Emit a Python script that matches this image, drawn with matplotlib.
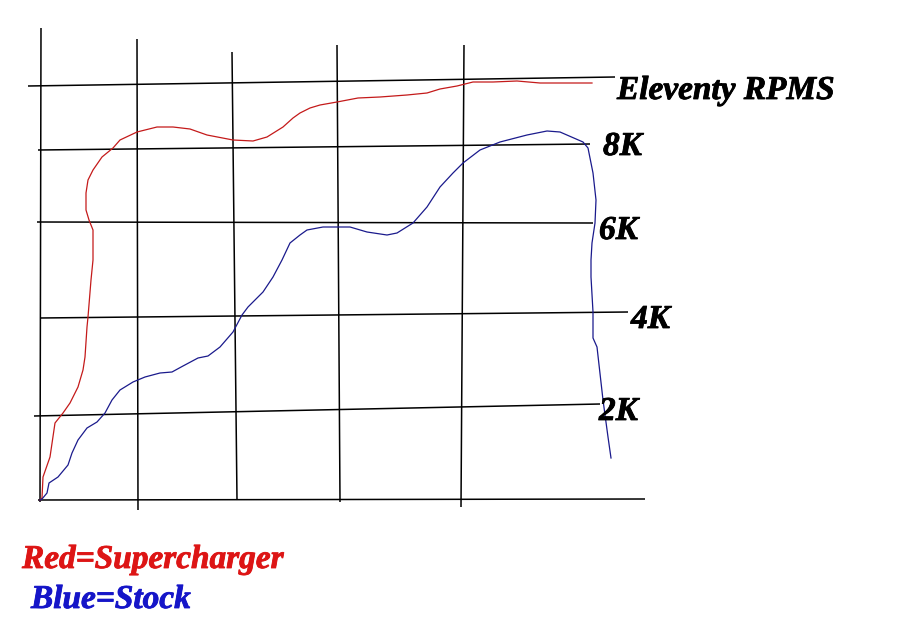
import matplotlib
matplotlib.use("Agg")
import matplotlib.pyplot as plt
from matplotlib import font_manager as fm
import matplotlib.patheffects as pe

# Hand-drawn sketch: values, in picture units (x right, y down)
red_x = [40, 42, 43, 50, 55, 63, 70, 78, 83, 85, 87, 88, 91, 93, 93, 93, 89, 86, 86, 88, 93,
         102, 113, 120, 137, 157, 173, 190, 207, 233, 253, 267, 283, 293, 300, 310, 320, 337,
         358, 380, 407, 427, 440, 457, 473, 493, 517, 540, 567, 592]
red_y = [500, 498, 477, 457, 423, 413, 403, 387, 370, 357, 327, 317, 280, 260, 245, 230, 220,
         210, 193, 180, 170, 157, 148, 140, 132, 127, 127, 129, 135, 140, 141, 137, 127, 118,
         113, 108, 105, 102, 98, 97, 95, 93, 89, 86, 82, 82, 81, 83, 83, 83]

blue_x = [40, 42, 47, 49, 58, 68, 72, 78, 87, 97, 105, 112, 120, 133, 145, 160, 172, 183, 198,
          208, 220, 233, 242, 248, 263, 273, 282, 290, 300, 307, 323, 350, 367, 387, 397, 413,
          427, 440, 453, 463, 480, 500, 527, 547, 560, 583, 588, 593, 596, 595, 592, 591, 591,
          593, 593, 597, 603, 608, 611]
blue_y = [500, 499, 493, 483, 477, 465, 453, 440, 428, 422, 413, 400, 390, 382, 377, 373, 372,
          366, 358, 356, 347, 332, 315, 307, 292, 277, 260, 243, 235, 230, 227, 227, 232, 235,
          233, 223, 207, 187, 173, 163, 150, 142, 135, 131, 132, 142, 148, 173, 200, 223, 243,
          260, 277, 312, 338, 347, 400, 437, 458]

# Hand-drawn grid strokes: (x0, y0, x1, y1)
h_lines = [(28, 86, 615, 77),    # Eleventy
           (38, 150, 590, 144),  # 8K
           (37, 222, 593, 223),  # 6K
           (40, 318, 628, 312),  # 4K
           (34, 416, 600, 404),  # 2K
           (38, 500, 645, 499)]  # baseline
v_lines = [(41, 28, 40, 502),
           (137, 39, 138, 510),
           (232, 52, 237, 500),
           (337, 45, 340, 502),
           (464, 45, 461, 507)]

labels = ["Eleventy RPMS", "8K", "6K", "4K", "2K"]
label_x = [617, 603, 599, 631, 599]
label_y = [99, 155, 239, 328, 420]

legend_text = ["Red=Supercharger", "Blue=Stock"]
legend_x = [22, 31]
legend_y = [568, 608]
legend_col = ["#dd1515", "#1515c8"]

fp = None
for f in fm.findSystemFonts():
    if f.split("/")[-1].lower() == "liberationserif-bolditalic.ttf":
        fp = fm.FontProperties(fname=f, size=24)
        break
if fp is None:
    fp = fm.FontProperties(family="serif", weight="bold", style="italic", size=24)

fig = plt.figure(figsize=(9.23, 6.25), dpi=100)
ax = fig.add_axes([0, 0, 1, 1])
ax.set_xlim(0, 923)
ax.set_ylim(625, 0)
ax.axis("off")

for x0, y0, x1, y1 in h_lines + v_lines:
    ax.plot([x0, x1], [y0, y1], color="black", lw=1.1, solid_capstyle="butt")

ax.plot(red_x, red_y, color="#c41a1a", lw=0.9)
ax.plot(blue_x, blue_y, color="#1a1a8c", lw=0.9)

for t, x, y in zip(labels, label_x, label_y):
    ax.text(x, y, t, color="black", ha="left", va="baseline", fontproperties=fp,
            path_effects=[pe.withStroke(linewidth=0.6, foreground="black")])
for t, x, y, c in zip(legend_text, legend_x, legend_y, legend_col):
    ax.text(x, y, t, color=c, ha="left", va="baseline", fontproperties=fp,
            path_effects=[pe.withStroke(linewidth=0.6, foreground=c)])

fig.savefig("out.png", dpi=100)
